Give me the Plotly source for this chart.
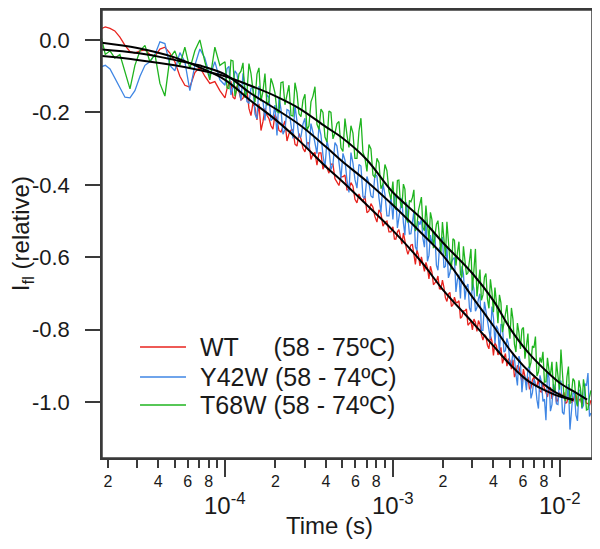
import plotly.graph_objects as go
import numpy as np

# ---------------- data ----------------
# sampling times in microseconds (first sweep)
time_us = [
    18, 19.3, 20.6, 22, 23.6, 25.3, 27.1, 29, 31.1, 33.3, 35.6, 38.2, 40.9, 43.8, 46.9,
    50.2, 53.8, 57.6, 61.7, 66.1, 70.8, 75.8, 81.2, 87, 93.2,
    100, 105.6, 111.6, 117.9, 124.6, 131.6, 139, 146.9, 155.2, 164, 173.2, 183, 193.3,
    204.3, 215.8, 228, 240.9, 254.5, 268.9, 284.1, 300.1, 317, 335, 353.9, 373.9, 395,
    417.3, 440.9, 465.8, 492.1, 519.9, 549.3, 580.3, 613.1, 647.7, 684.3, 723, 763.8,
    807, 852.6, 900.7, 951.6,
    1005, 1047, 1091, 1137, 1185, 1235, 1287, 1341, 1398, 1457, 1518, 1582, 1649, 1718,
    1790, 1866, 1944, 2026, 2111, 2200, 2293, 2389, 2490, 2595, 2704, 2818, 2936, 3060,
    3189, 3323, 3463, 3608, 3760, 3919, 4084, 4256, 4435, 4621, 4816, 5018, 5230, 5450,
    5679, 5918, 6167, 6427, 6698, 6980, 7274, 7580, 7899, 8232, 8578, 8939, 9316, 9708,
    10117, 10543, 10987, 11449, 11931, 12434, 12957, 13503, 14072, 14664, 15282,
]
# in-between sampling times in microseconds
time_us_b = [
    102.8, 108.5, 114.7, 121.2, 128.1, 135.3, 142.9, 151, 159.5, 168.6, 178, 188.1, 198.7,
    210, 221.8, 234.4, 247.6, 261.6, 276.4, 292, 308.5, 325.9, 344.3, 363.8, 384.3, 406,
    428.9, 453.2, 478.8, 505.8, 534.4, 564.6, 596.5, 630.2, 665.8, 703.4, 743.2, 785.1,
    829.5, 876.4, 925.8, 978,
    1026, 1069, 1114, 1161, 1210, 1261, 1314, 1369, 1427, 1487, 1550, 1615, 1683, 1754,
    1827, 1905, 1985, 2068, 2155, 2246, 2341, 2439, 2542, 2649, 2760, 2877, 2997, 3124,
    3255, 3392, 3535, 3683, 3838, 4001, 4169, 4345, 4527, 4717, 4916, 5122, 5339, 5563,
    5797, 6041, 6295, 6561, 6837, 7125, 7425, 7738, 8063, 8403, 8756, 9125, 9510, 9910,
    10327, 10762, 11215, 11687, 12179, 12693, 13227, 13784, 14365, 14969,
]

wt = [
    0.03, 0.036, 0.032, 0.025, 0.008, -0.015, -0.032, -0.036, -0.03, -0.027,
    -0.04, -0.045, -0.025, -0.02, -0.036, -0.06, -0.1, -0.125, -0.13, -0.09,
    -0.075, -0.1, -0.12, -0.115, -0.14,
    -0.16, -0.12, -0.158, -0.127, -0.166, -0.14, -0.189, -0.173, -0.221, -0.25,
    -0.189, -0.217, -0.246, -0.22, -0.254, -0.224, -0.259, -0.248, -0.293, -0.273,
    -0.309, -0.284, -0.315, -0.346, -0.312, -0.342, -0.368, -0.343, -0.392, -0.377,
    -0.373, -0.414, -0.404, -0.45, -0.44, -0.431, -0.472, -0.462, -0.503, -0.479,
    -0.504, -0.53,
    -0.516, -0.55, -0.524, -0.564, -0.558, -0.592, -0.566, -0.595, -0.58, -0.624,
    -0.619, -0.614, -0.66, -0.641, -0.671, -0.652, -0.688, -0.683, -0.722, -0.697,
    -0.731, -0.725, -0.72, -0.764, -0.748, -0.788, -0.777, -0.771, -0.805, -0.785,
    -0.829, -0.818, -0.853, -0.832, -0.836, -0.87, -0.849, -0.882, -0.901, -0.885,
    -0.883, -0.92, -0.903, -0.945, -0.928, -0.93, -0.961, -0.931, -0.955, -0.97,
    -0.949, -0.974, -0.963, -0.991, -0.959, -0.993, -0.981, -0.973, -1.0, -0.982,
    -0.998, -0.979, -0.995, -1.007, -0.988, -1.004, -0.995,
]
wt_b = [
    -0.135, -0.114, -0.163, -0.142, -0.161, -0.14, -0.209, -0.187, -0.176, -0.225,
    -0.208, -0.237, -0.206, -0.25, -0.239, -0.279, -0.249, -0.288, -0.258, -0.299,
    -0.284, -0.33, -0.311, -0.312, -0.357, -0.353, -0.343, -0.383, -0.402, -0.378,
    -0.414, -0.394, -0.44, -0.425, -0.446, -0.477, -0.452, -0.488, -0.469, -0.514,
    -0.5, -0.53,
    -0.55, -0.53, -0.549, -0.533, -0.577, -0.581, -0.565, -0.62, -0.594, -0.599,
    -0.639, -0.629, -0.625, -0.676, -0.666, -0.687, -0.663, -0.712, -0.702, -0.736,
    -0.71, -0.725, -0.769, -0.748, -0.743, -0.782, -0.801, -0.78, -0.775, -0.814,
    -0.813, -0.843, -0.817, -0.871, -0.845, -0.864, -0.893, -0.866, -0.88, -0.909,
    -0.931, -0.899, -0.926, -0.909, -0.951, -0.963, -0.938, -0.953, -0.937, -0.972,
    -0.961, -0.986, -0.959, -0.977, -1.001, -0.974, -0.987, -1.004, -0.976, -1.002,
    -0.983, -1.009, -0.991, -0.987, -1.003, -1.009,
]

y42w = [
    -0.075, -0.07, -0.08, -0.105, -0.135, -0.158, -0.16, -0.14, -0.1, -0.07,
    -0.06, -0.04, -0.005, -0.01, -0.07, -0.085, -0.035, -0.06, -0.14, -0.07,
    -0.025, -0.05, -0.1, -0.06, -0.11,
    -0.125, -0.073, -0.131, -0.094, -0.167, -0.126, -0.174, -0.131, -0.218, -0.165,
    -0.222, -0.159, -0.216, -0.264, -0.191, -0.248, -0.195, -0.272, -0.229, -0.267,
    -0.216, -0.306, -0.255, -0.314, -0.263, -0.353, -0.303, -0.343, -0.293, -0.383,
    -0.332, -0.421, -0.34, -0.409, -0.348, -0.437, -0.396, -0.436, -0.376, -0.476,
    -0.426, -0.486,
    -0.496, -0.435, -0.493, -0.436, -0.539, -0.487, -0.535, -0.473, -0.581, -0.51,
    -0.548, -0.496, -0.595, -0.563, -0.537, -0.636, -0.569, -0.629, -0.571, -0.643,
    -0.605, -0.696, -0.648, -0.625, -0.717, -0.674, -0.751, -0.688, -0.739, -0.701,
    -0.802, -0.748, -0.8, -0.736, -0.838, -0.799, -0.786, -0.862, -0.824, -0.9,
    -0.864, -0.924, -0.873, -0.973, -0.932, -0.907, -0.99, -0.937, -0.994, -0.926,
    -0.998, -1.05, -0.932, -1.007, -0.962, -1.007, -0.941, -1.034, -0.988, -1.076,
    -0.975, -1.036, -0.967, -1.018, -0.949, -0.92, -1.03,
]
y42w_b = [
    -0.079, -0.152, -0.085, -0.133, -0.092, -0.17, -0.133, -0.205, -0.127, -0.169,
    -0.151, -0.223, -0.18, -0.158, -0.26, -0.192, -0.239, -0.181, -0.268, -0.232,
    -0.296, -0.231, -0.285, -0.239, -0.318, -0.278, -0.358, -0.283, -0.338, -0.313,
    -0.387, -0.311, -0.385, -0.344, -0.433, -0.377, -0.431, -0.371, -0.436, -0.396,
    -0.486, -0.431,
    -0.43, -0.519, -0.467, -0.505, -0.448, -0.536, -0.509, -0.572, -0.501, -0.494,
    -0.572, -0.611, -0.539, -0.533, -0.622, -0.575, -0.544, -0.625, -0.657, -0.614,
    -0.601, -0.662, -0.714, -0.646, -0.683, -0.74, -0.667, -0.749, -0.715, -0.802,
    -0.723, -0.769, -0.826, -0.767, -0.789, -0.865, -0.787, -0.858, -0.84, -0.895,
    -0.879, -0.954, -0.888, -0.928, -0.967, -0.901, -0.974, -0.951, -1.018, -0.945,
    -0.992, -0.919, -1.025, -0.95, -1.005, -0.944, -1.028, -0.986, -0.95, -1.023,
    -0.976, -1.052, -0.968, -1.009, -0.955, -1.04,
]

t68w = [
    0.02, -0.04, -0.03, -0.05, -0.04, -0.09, -0.135, -0.07, -0.03, -0.015,
    -0.06, -0.04, -0.12, -0.155, -0.05, -0.03, -0.07, -0.02, -0.08, -0.03,
    0.0, -0.06, -0.11, -0.02, -0.07,
    -0.06, -0.134, -0.058, -0.132, -0.086, -0.16, -0.065, -0.139, -0.094, -0.169,
    -0.093, -0.168, -0.123, -0.198, -0.118, -0.179, -0.125, -0.21, -0.146, -0.212,
    -0.15, -0.237, -0.155, -0.233, -0.191, -0.268, -0.196, -0.273, -0.231, -0.298,
    -0.217, -0.297, -0.257, -0.327, -0.216, -0.326, -0.289, -0.373, -0.327, -0.411,
    -0.344, -0.418,
    -0.391, -0.469, -0.387, -0.464, -0.412, -0.504, -0.447, -0.414, -0.512, -0.45,
    -0.518, -0.457, -0.556, -0.496, -0.545, -0.499, -0.589, -0.543, -0.502, -0.61,
    -0.549, -0.623, -0.557, -0.656, -0.604, -0.643, -0.577, -0.622, -0.708, -0.634,
    -0.704, -0.645, -0.741, -0.696, -0.684, -0.782, -0.726, -0.784, -0.732, -0.825,
    -0.771, -0.862, -0.808, -0.799, -0.88, -0.811, -0.891, -0.85, -0.928, -0.877,
    -0.861, -0.944, -0.912, -0.889, -0.971, -0.923, -0.855, -0.985, -0.93, -1.005,
    -0.935, -0.995, -0.94, -1.015, -0.965, -1.02, -0.968,
]
t68w_b = [
    -0.132, -0.056, -0.155, -0.094, -0.063, -0.143, -0.092, -0.172, -0.077, -0.141,
    -0.181, -0.106, -0.146, -0.201, -0.116, -0.152, -0.208, -0.118, -0.204, -0.166,
    -0.249, -0.171, -0.129, -0.247, -0.2, -0.282, -0.2, -0.257, -0.225, -0.308,
    -0.262, -0.237, -0.327, -0.252, -0.311, -0.363, -0.301, -0.38, -0.339, -0.398,
    -0.361, -0.44,
    -0.46, -0.388, -0.45, -0.398, -0.495, -0.443, -0.435, -0.528, -0.471, -0.434,
    -0.527, -0.501, -0.476, -0.575, -0.509, -0.549, -0.503, -0.597, -0.556, -0.634,
    -0.553, -0.587, -0.646, -0.57, -0.648, -0.607, -0.692, -0.577, -0.668, -0.719,
    -0.655, -0.715, -0.661, -0.752, -0.725, -0.704, -0.807, -0.75, -0.788, -0.74,
    -0.841, -0.782, -0.853, -0.794, -0.845, -0.906, -0.845, -0.819, -0.917, -0.891,
    -0.945, -0.878, -0.925, -0.962, -0.889, -0.966, -0.932, -0.997, -0.902, -0.977,
    -0.942, -1.012, -0.962, -0.937, -1.022, -0.986,
]

# fitted curves (black)
fit_time_us = [18, 30, 50, 70, 100, 140, 200, 280, 400, 500, 700, 1000, 1500, 2000,
               3000, 4000, 5000, 6500, 8500, 10000, 12000, 14500]
wt_fit = [-0.007, -0.022, -0.048, -0.075, -0.11, -0.165, -0.22, -0.28, -0.35, -0.39,
          -0.455, -0.525, -0.615, -0.69, -0.78, -0.845, -0.895, -0.943, -0.972, -0.985,
          -0.993, None]
y42w_fit = [-0.026, -0.036, -0.055, -0.07, -0.095, -0.145, -0.19, -0.235, -0.295, -0.335,
            -0.39, -0.455, -0.535, -0.595, -0.71, -0.79, -0.855, -0.915, -0.96, -0.98,
            -0.995, None]
t68w_fit = [-0.044, -0.055, -0.07, -0.083, -0.10, -0.125, -0.155, -0.19, -0.24, -0.27,
            -0.33, -0.42, -0.495, -0.56, -0.645, -0.72, -0.795, -0.865, -0.92, -0.948,
            -0.97, -0.993]

series_names = ["WT\u00a0\u00a0\u00a0\u00a0\u00a0(58 - 75\u00baC)",
                "Y42W (58 - 74\u00baC)",
                "T68W (58 - 74\u00baC)"]
series_colors = ["#e8231e", "#3f86e4", "#1fb41f"]

# axis ticks
y_tick_vals = [0.0, -0.2, -0.4, -0.6, -0.8, -1.0]
y_tick_text = ["0.0", "-0.2", "-0.4", "-0.6", "-0.8", "-1.0"]
x_decades = [1e-5, 1e-4, 1e-3]
x_mantissas = [2, 3, 4, 5, 6, 7, 8, 9]
x_mantissa_labels = ["2", "", "4", "", "6", "", "8", ""]
x_major_vals = [1e-4, 1e-3, 1e-2]
x_major_text = ["10<sup>-4</sup>", "10<sup>-3</sup>", "10<sup>-2</sup>"]
x_range = [1.845e-5, 1.55e-2]
y_range = [-1.1545, 0.0828]

FONT = "Liberation Sans, Arial, Helvetica, sans-serif"
INK = "#1a1a1a"
FRAME = "#3a3a3a"

# merge the two sweeps in time order
t_all = np.array(time_us + time_us_b) * 1e-6
order = np.argsort(t_all)
t_sorted = t_all[order]
tf = np.array(fit_time_us) * 1e-6

fig = go.Figure()
for a, b, name, col in zip([wt, y42w, t68w], [wt_b, y42w_b, t68w_b], series_names, series_colors):
    vals = np.array(a + b)[order]
    fig.add_trace(go.Scatter(x=t_sorted, y=vals, mode="lines", name=name,
                             line=dict(color=col, width=1.3), showlegend=False))
for vals in [wt_fit, y42w_fit, t68w_fit]:
    fig.add_trace(go.Scatter(x=tf, y=vals, mode="lines", showlegend=False,
                             line=dict(color="black", width=2, shape="spline")))

minor_vals = [m * d for d in x_decades for m in x_mantissas]
minor_text = [lab for d in x_decades for lab in x_mantissa_labels]

fig.update_xaxes(
    type="log", range=[np.log10(x_range[0]), np.log10(x_range[1])], automargin=False,
    tickmode="array", tickvals=minor_vals, ticktext=minor_text,
    ticks="outside", ticklen=8, tickwidth=1.5, tickcolor=FRAME,
    tickfont=dict(family=FONT, size=16, color=INK),
    minor=dict(tickmode="array", tickvals=x_major_vals, ticks="outside",
               ticklen=17, tickwidth=1.5, tickcolor=FRAME, showgrid=False),
    showline=True, linecolor=FRAME, linewidth=1.5, mirror=True,
    showgrid=False, zeroline=False,
)
fig.update_yaxes(
    range=y_range, automargin=False, tickmode="array", tickvals=y_tick_vals,
    ticktext=y_tick_text,
    ticks="outside", ticklen=15, tickwidth=1.5, tickcolor=FRAME, ticklabelstandoff=11,
    tickfont=dict(family=FONT, size=22, color=INK),
    showline=True, linecolor=FRAME, linewidth=1.5, mirror=True,
    showgrid=False, zeroline=False,
)

annotations = []
for v, txt in zip(x_major_vals, x_major_text):
    annotations.append(dict(x=np.log10(v), xref="x", y=-0.1027, yref="paper",
                            text=txt, showarrow=False, xanchor="center", yanchor="middle",
                            font=dict(family=FONT, size=24, color=INK)))
annotations.append(dict(x=0.465, xref="paper", y=-0.151, yref="paper", text="Time (s)",
                        showarrow=False, xanchor="center", yanchor="middle",
                        font=dict(family=FONT, size=24, color=INK)))
# y-axis title
annotations.append(dict(x=-0.163, xref="paper", y=0.50, yref="paper",
                        text="I<sub>fl</sub> (relative)", textangle=-90, showarrow=False,
                        xanchor="center", yanchor="middle",
                        font=dict(family=FONT, size=24, color=INK)))

# frame around the plot area
shapes = [dict(type="rect", xref="paper", yref="paper", x0=0, x1=1, y0=0, y1=1,
               line=dict(color=FRAME, width=1.5), layer="above")]

# legend drawn inside the plot area
legend_rows_y = [0.2478, 0.1808, 0.1183]
for yy, name, col in zip(legend_rows_y, series_names, series_colors):
    shapes.append(dict(type="line", xref="paper", yref="paper", x0=0.0776, x1=0.1714,
                       y0=yy, y1=yy, line=dict(color=col, width=1.6)))
    annotations.append(dict(x=0.1959, xref="paper", y=yy, yref="paper", text=name,
                            showarrow=False, xanchor="left", yanchor="middle",
                            font=dict(family=FONT, size=25, color=INK)))

# the page adds an 8px body margin, so the figure is kept inside the window
fig.update_layout(
    width=592, height=533,
    margin=dict(l=94, r=8, t=2, b=83),
    paper_bgcolor="white", plot_bgcolor="white",
    font=dict(family=FONT, color=INK),
    annotations=annotations, shapes=shapes,
    showlegend=False,
)

fig.write_html("out.html")
